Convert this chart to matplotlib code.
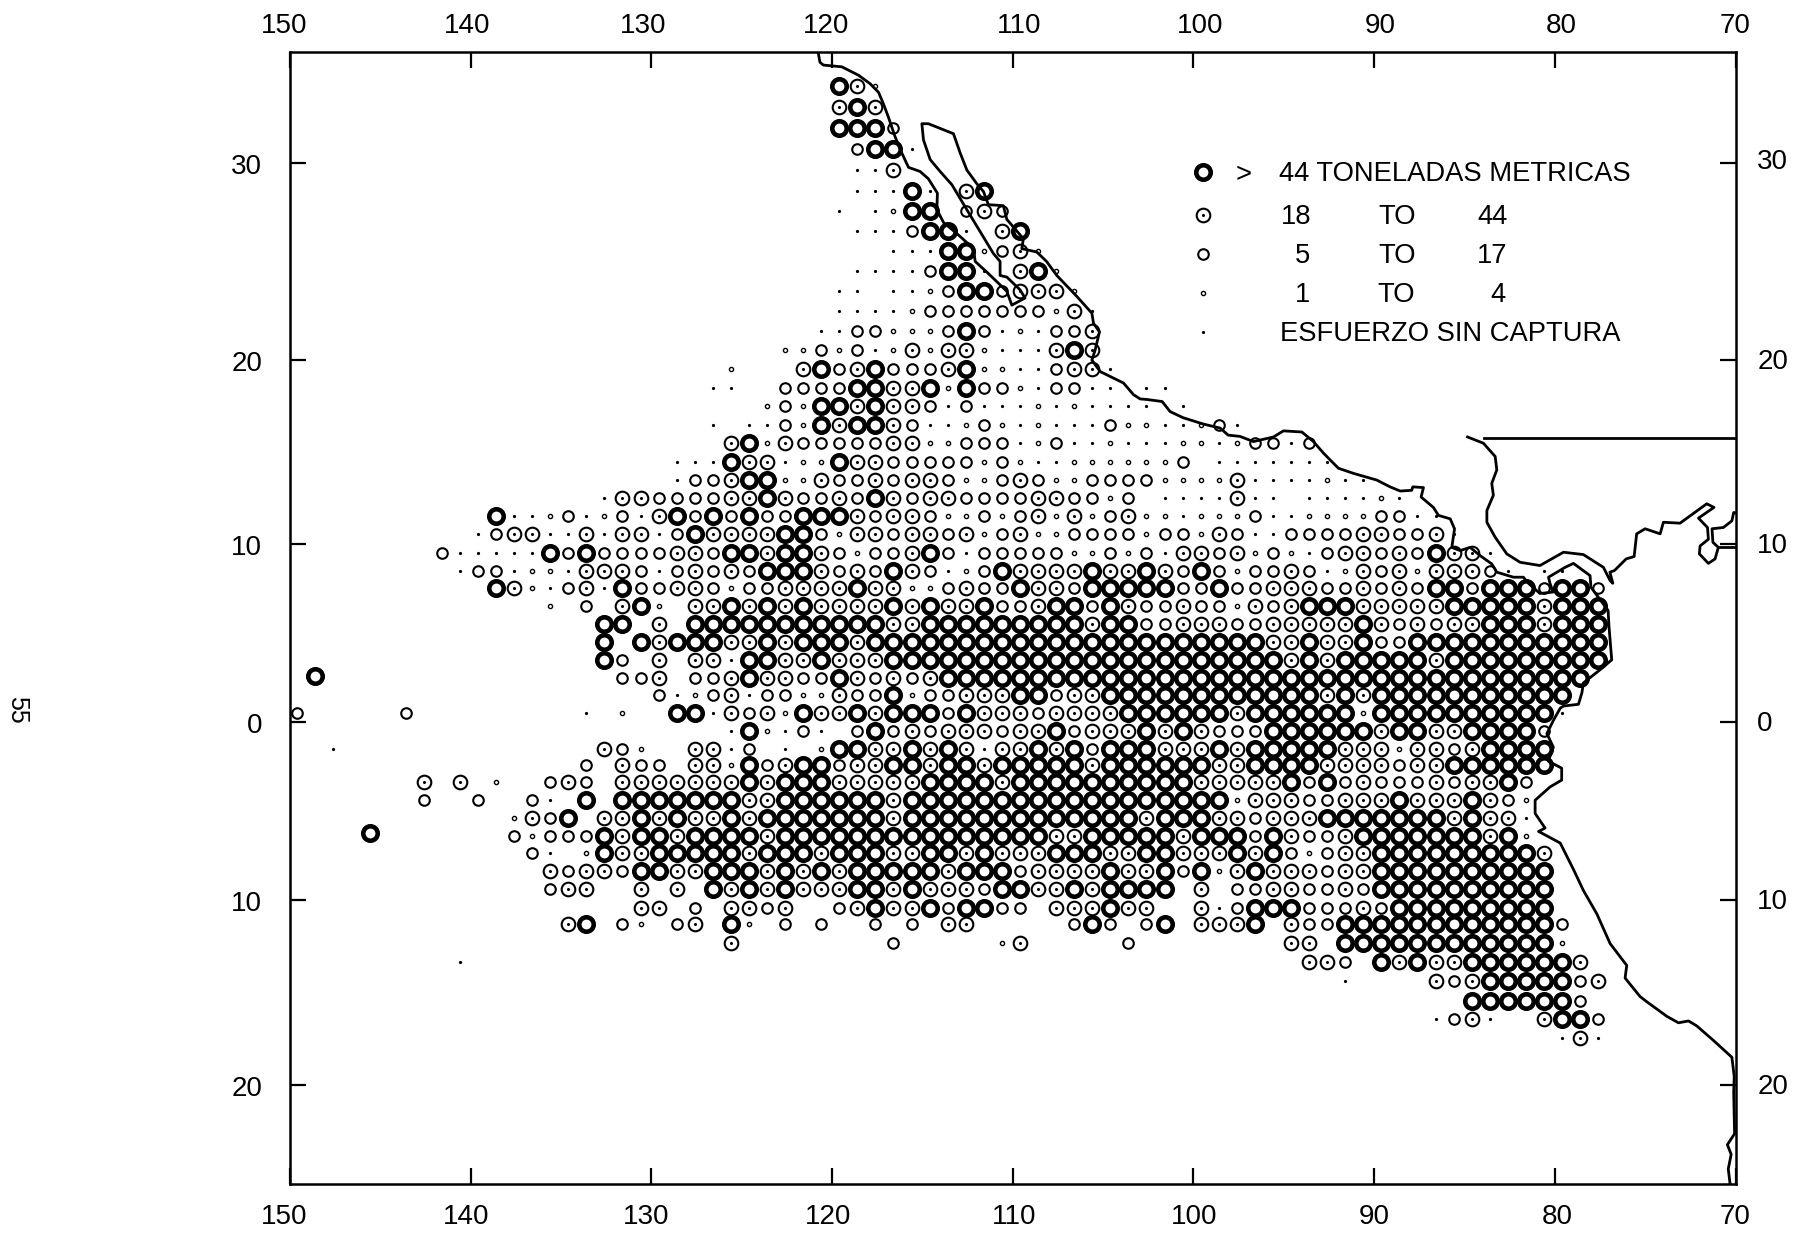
import numpy as np
import matplotlib
matplotlib.use("Agg")
import matplotlib.pyplot as plt
from matplotlib.transforms import ScaledTranslation

plt.rcParams['font.family'] = ['Liberation Sans', 'DejaVu Sans']

# H >44, T 18-44, O 5-17, s 1-4, d effort without catch
row_lats = [33.7, 32.7, 31.7, 30.7, 29.65, 28.65, 27.65, 26.65, 25.65, 24.6, 23.6, 22.55, 21.5, 20.5, 19.5, 18.5, 17.5,
            16.5, 15.5, 14.5, 13.5, 12.5, 11.5, 10.55, 9.5, 8.5, 7.5, 6.5, 5.5, 4.5, 3.5, 2.5, 1.5, 0.5,
            -0.5, -1.5, -2.42, -3.38, -4.4, -5.4, -6.39, -7.34, -8.35, -9.39, -10.39, -11.32, -12.36, -13.42, -14.45,
            -15.5, -16.5, -17.5]
row_starts = [30, 30, 30, 31, 31, 31, 30, 31, 33, 31, 30, 30, 29, 27, 24, 23, 26,
              23, 24, 21, 21, 17, 11, 10, 8, 9, 11, 14, 17, 17, 17, 18, 20, 16,
              24, 17, 16, 7, 7, 12, 12, 13, 14, 14, 19, 15, 24, 56, 58, 65,
              63, 70]
row_marks = [
    "HTs",
    "THT",
    "HHHO",
    "OHHd",
    "ddT",
    "dddHd TH",
    "d dsHH OTO",
    "dddOHHd TH",
    "dddHHsOTs",
    "ddddOHHd THs",
    "dd ddsOHHOTTTs",
    "ddddsOOOOOOOsTd",
    "ddOOsssOHOdsdOOT",
    "ssOsOdsTsTTsdddTHT",
    "s   THOTHOOOTHssddOTTd",
    "dd  OOOOHHTTHsHOOsdOOdd dd",
    "sOsHHTHTTOdOdddsdsdddd d",
    "d ddOsHTHHTOddsOsdsdddOssddsOd",
    "THsTOOOOOTTssOOOdsOddsdddssdsOOdO",
    "dddHTTdssHTTOOOOOsOsddssssssO ddddddd",
    "dOOTHHssTOOTOTTOssOTOssOOOOssssTddddsdd",
    "dTTOOOOTTHTOOTOHTOTTOOOOTTOOsO ddddTdd ddddsd",
    "HddsOdsOdTHOHOHOOHHHTOTTOssOsOTsTsOTssdsssOddssssOOdd",
    "dOTTddTdTTdOHTTTTHHOsTTOTTOTsOTssOOOOsOOsTOddOOOOTTOOTd",
    "OdddddHOHOOOOTTOHHTHHTOsOOTHOdOOOOOssOsOdTTOTsOsdOTTOTOHTTd",
    "dOOdssdTTTOdOTOTOHHHTOTOHTOdsOHTTTTHTTHTOHOsOOTOdsTOTsTTTOd dd",
    "HTsdOTdHOOTTOsOOTTTTHTTssOTOOHTTOHHHHHOOHOOTTTOOTOTOHHOHHHOHHO",
    "s O THs TTHTHTHTTTTHTHTTHOOTHHOHTOOTOOsTOTHHHTTTTTHHHHHTHHH",
    "HH T HHHHHHHHHHHTTHHHHHHHHHTHHOOTTTOOTTTTTHTOTOTTHHHTHHH",
    "H HTHHHTTHTHHHTHHHHHHHHHHHHHHHHHHHHHHTTHTTHOOHHHHHHHHHHH",
    "HO T TTdHHTTHTTTHHHHHHHHHHHHHHHHHHHHHHTHTHHHHHTHHHHHHHHH",
    "OOT OOTHTTOOHTOTOTHHHHHHHHHHHHHHHHHHHHHHHHHHHHHHHHHHHH",
    "OdsOTdOOssTOOHsOOTTTHHOTTHHHHHHHHHHHHTHTHHHHHHHHHHH",
    "d s  HHdTOTsHTTHTHHHOHTTTOTTTTHHHHHHTHHHHHHsHHHHHHHHHHd",
    "dHsdOd OHOTOTTTOTTHOTTTHTHTOOOHHHHHHTHHTTHHHHO",
    "TOs  TTdO d sHHTTHTHTdTTHTHOHHHTTTHTHHHHHTTTsTTOTHHHH",
    "O TOO TTsHOTHHOTTHHTHHTHHHHHTHHHHHHTTHHHHTTTTOTTHHHHHH",
    "T T s  OTO TTTTTTTHTHHHTTTTTHHHHTHHHHHHHHHHTTTTTHOHOTOOOTOTTHO",
    "O  O  Od H HHHHHHHTTHHHHHHTHHHHHHHHHHHHHHHHHHsTTTOOTTTHTTTHTOs",
    "sTOH TTHTHTTHTHHHHHHHTHHHHHHHHHHHHHTHHHTTOTTTHHHHHHHTHTTd",
    "OsOOOHTHHTHHHHTHHHHHHHHHHHHHHHTTHHHHHTHHHOHTOOTHHHHHHHTHs",
    "Od sHTTHHHHHTHHHTHHHTTHHTHTTTHHHTTHHTTTHTHOsOTTHHHHHHHHHT",
    "TOTTOHHTTHHHTHTHTHHHHHTHHHOTTTTHTTHOHsTHTTTOTTHHHHHHHHHH",
    "OTT  T T HTHTHTTTHHTHTTTOHHTTHTHHHH T OOTTOOTOHHHHHHHHHH",
    "TT O TTOT  OTHTTHOHHOO TTTHTT  TdOHHHOOOTOHHHHHHHHH",
    "TH Os OT Hs O O  O O TT     OHO OH TTTH TOOHHHHHHHHHHHHO",
    "T        O     sT     O        TT HHHHHHHHHHHHs",
    "TTO HTHTTHHHHHHT",
    "d    TOTHHHHHOT",
    "HHHHHHO",
    "dOTd  THHO",
    "dTd",
]

# lone cells far to the west
outlier_cols = [1, 0, 6, 2, 4, 9]
outlier_lats = [2.6, 0.5, 0.5, -1.5, -6.25, -13.42]
outlier_marks = ["H", "O", "O", "d", "H", "d"]

# tick values
lon_ticks = [150, 140, 130, 120, 110, 100, 90, 80, 70]
lat_ticks = [30, 20, 10, 0, -10, -20]

# shoreline, lon/lat
coast_lon = [120.77, 120.67, 120.48, 119.46, 118.54, 117.89, 117.43, 117.16, 116.88, 116.51, 116.14, 115.77, 115.13,
             114.67, 114.17, 114.2, 113.83, 113.09, 112.17, 112.08, 111.43, 110.33, 110.05, 109.32, 109.6, 110.33,
             110.7, 110.7, 111.07, 111.8, 112.54, 113.37, 114.02, 114.57, 114.94, 115.03, 114.67, 113.28, 112.91,
             112.54, 112.0, 111.62, 111.35, 110.52, 110.33, 109.41, 109.5, 108.67, 108.13, 107.56, 106.45, 105.62,
             105.53, 105.2, 105.44, 105.62, 105.16, 103.87, 103.32, 102.95, 102.57, 101.73, 101.29, 100.57, 99.46,
             98.52, 98.08, 97.42, 96.68, 95.57, 95.02, 94.0, 93.36, 92.8, 91.98, 91.15, 89.85, 89.12, 88.56, 87.92,
             87.86, 87.27, 87.4, 86.72, 86.44, 85.79, 85.55, 85.7, 85.24, 84.69, 84.13, 83.49, 83.21, 82.29, 81.74,
             81.46, 80.82, 80.1, 80.27, 80.35, 79.43, 78.97, 78.05, 78.0, 77.05, 77.0, 76.85, 77.5, 78.42, 78.5,
             78.69, 79.52, 79.7, 80.08, 80.44, 80.08, 80.36, 79.62, 79.62, 80.26, 81.09, 81.09, 80.54, 80.9, 79.7,
             78.96, 78.42, 77.67, 76.94, 76.02, 76.11, 75.28, 74.91, 73.8, 73.16, 72.6, 72.14, 71.22, 70.2, 70.07,
             70.1, 70.05, 70.45, 70.24, 70.4, 70.3]
coast_lat = [35.26, 34.8, 34.67, 34.59, 34.2, 33.8, 33.4, 32.86, 32.22, 31.28, 30.5, 29.8, 29.6,
             29.24, 28.53, 27.71, 27.07, 26.51, 25.75, 25.1, 24.55, 23.57, 22.85, 23.22, 23.65, 24.3,
             24.38, 25.1, 25.5, 26.6, 27.71, 28.95, 29.6, 30.18, 31.13, 31.91, 31.91, 31.43, 30.5,
             29.67, 29.01, 28.61, 27.96, 27.91, 27.23, 26.25, 25.75, 25.58, 25.1, 24.38, 23.3, 22.43,
             21.9, 21.46, 20.5, 19.97, 19.36, 18.75, 18.13, 17.9, 17.87, 17.76, 17.22, 16.89, 16.55,
             16.33, 15.95, 15.88, 15.6, 15.85, 16.18, 16.12, 15.6, 14.97, 14.15, 13.87, 13.5, 13.13, 12.9, 12.94,
             13.13, 13.09, 12.57, 12.0, 11.56, 11.37, 10.82, 9.79, 9.61, 9.79, 9.33, 8.87, 8.41, 8.13, 8.13,
             7.79, 7.22, 7.3, 7.8, 8.13, 8.68, 8.9, 8.22, 7.57, 6.27, 5.35, 3.5, 2.94, 2.2, 1.65,
             1.0, 0.9, 0.78, 0.09, -0.65, -1.42, -2.2, -2.6, -3.27, -3.65, -4.4, -5.14, -5.96, -6.15, -6.8,
             -8.29, -9.44, -10.75, -12.38, -13.58, -14.27, -15.28, -15.56, -16.35, -16.7, -16.6, -16.87, -17.65, -18.55,
             -19.58, -20.4, -22.58, -23.15, -23.65, -24.4, -25.17]

carib_lon = [84.83, 83.95, 83.3, 83.21, 83.49, 83.4, 83.76, 83.76, 83.3, 82.66, 81.92, 80.82, 79.52, 78.42, 77.31,
             76.94, 76.79, 76.95, 76.7, 76.05, 75.61, 75.47, 75.0, 74.17, 73.99, 73.07, 71.59, 71.19, 72.05, 71.55,
             71.5, 71.96, 72.0, 71.5, 71.13, 70.95, 71.25, 71.3, 70.67, 70.2, 70.1, 70.0]
carib_lat = [15.85, 15.51, 14.79, 14.06, 13.32, 12.67, 11.83, 11.18, 10.35, 9.43, 8.96, 8.78, 9.52, 9.39, 8.68,
             7.94, 7.79, 8.41, 8.5, 9.15, 9.28, 10.54, 10.82, 10.54, 11.18, 11.13, 12.2, 12.0, 11.41, 10.89,
             10.24, 9.87, 9.43, 8.9, 9.15, 9.79, 10.07, 10.82, 10.89, 11.26, 11.72, 11.7]
border_lon = [83.93, 70.0]
border_lat = [15.82, 15.82]
lake_lon = [70.85, 70.0]
lake_lat = [9.8, 9.8]


def merc(lat):
    return np.log(np.tan(np.pi / 4 + np.radians(np.asarray(lat, dtype=float)) / 2))


def merc_inv(m):
    return np.degrees(2 * np.arctan(np.exp(np.asarray(m, dtype=float))) - np.pi / 2)


# size, edge width, filled, dot in middle
styles = {
    "H": (10.4, 3.3, False, False),
    "T": (9.8, 1.5, False, True),
    "O": (7.6, 1.5, False, False),
    "s": (3.0, 1.0, False, False),
    "d": (2.3, 0.0, True, False),
}

fig = plt.figure(figsize=(17.96, 12.33), dpi=100)
ax = fig.add_axes([290 / 1796, 1 - 1184 / 1233, (1735.5 - 290) / 1796, (1184 - 52.3) / 1233])
ax.set_yscale('function', functions=(merc, merc_inv))
ax.set_xlim(150, 70)
ax.set_ylim(-25.17, 35.26)

cell_cols = []
cell_lats = []
cell_marks = []
for lat, start, marks in zip(row_lats, row_starts, row_marks):
    for i, m in enumerate(marks):
        if m != " ":
            cell_cols.append(start + i)
            cell_lats.append(lat)
            cell_marks.append(m)
cell_cols = np.array(cell_cols + outlier_cols)
cell_lats = np.array(cell_lats + outlier_lats)
cell_marks = np.array(cell_marks + outlier_marks)
cell_lons = 149.6 - cell_cols


def draw_mark(m, x, y, **kw):
    size, edge, filled, dot = styles[m]
    if filled:
        ax.plot(x, y, ls='none', marker='o', ms=size, mfc='k', mec='k', mew=0, **kw)
    else:
        ax.plot(x, y, ls='none', marker='o', ms=size, mfc='none', mec='k', mew=edge, **kw)
    if dot:
        ax.plot(x, y, ls='none', marker='o', ms=2.2, mfc='k', mec='k', mew=0, **kw)


for m in styles:
    sel = cell_marks == m
    draw_mark(m, cell_lons[sel], cell_lats[sel])

ax.plot(coast_lon, coast_lat, color='k', lw=2.0, solid_joinstyle='round')
ax.plot(carib_lon, carib_lat, color='k', lw=2.0, solid_joinstyle='round')
ax.plot(border_lon, border_lat, color='k', lw=2.0)
ax.plot(lake_lon, lake_lat, color='k', lw=2.0)

ax.set_xticks(lon_ticks)
ax.set_xticklabels([str(v) for v in lon_ticks])
ax.set_yticks(lat_ticks)
ax.set_yticklabels([str(abs(v)) for v in lat_ticks])
ax.minorticks_off()
ax.tick_params(axis='both', which='major', direction='in', length=11.5, width=1.6, labelsize=20,
               top=True, right=True, labeltop=True, labelright=True)
ax.tick_params(axis='x', pad=12)
ax.tick_params(axis='y', pad=20)
for s in ax.spines.values():
    s.set_linewidth(1.8)


# the labels were set by hand in the original, so they sit a little off their ticks
def nudge(label, dx, dy):
    off = ScaledTranslation(dx / 100, dy / 100, fig.dpi_scale_trans)
    label.set_transform(label.get_transform() + off)


top_dx = [-6, -4, -8, -6, 6, 7, 6, 6, 0]
bottom_dx = [-6, -5, -5, -4, 1, 1, 0, 2, 0]
for tick, t_dx, b_dx in zip(ax.xaxis.get_major_ticks(), top_dx, bottom_dx):
    nudge(tick.label2, t_dx, -3)
    nudge(tick.label1, b_dx, -3)
right_dy = [4, 1, 1, 1, 1, 1]
for tick, r_dy in zip(ax.yaxis.get_major_ticks(), right_dy):
    nudge(tick.label2, -6, r_dy)
    nudge(tick.label1, 0, -1)

# legend
leg_x = 1203 / 1796
leg_y = [172, 215, 254, 293, 332]
for m, y in zip("HTOsd", leg_y):
    draw_mark(m, [leg_x], [1 - y / 1233], transform=fig.transFigure, clip_on=False)


def ftext(x, y, s, **kw):
    fig.text(x / 1796, 1 - y / 1233, s, va='center', ha='left', fontsize=19.7, **kw)


ftext(1236, 175, ">")
ftext(1279, 174, "44 TONELADAS METRICAS")
ftext(1281, 217, "18")
ftext(1378, 217, "TO")
ftext(1477, 217, "44")
ftext(1295, 256, "5")
ftext(1378, 256, "TO")
ftext(1477, 256, "17")
ftext(1295, 295, "1")
ftext(1377, 295, "TO")
ftext(1490, 295, "4")
ftext(1280, 334, "ESFUERZO SIN CAPTURA")

fig.text(17 / 1796, 1 - 710 / 1233, "55", rotation=-90, ha='center', va='center', fontsize=18)

fig.savefig("out.png", dpi=100)
